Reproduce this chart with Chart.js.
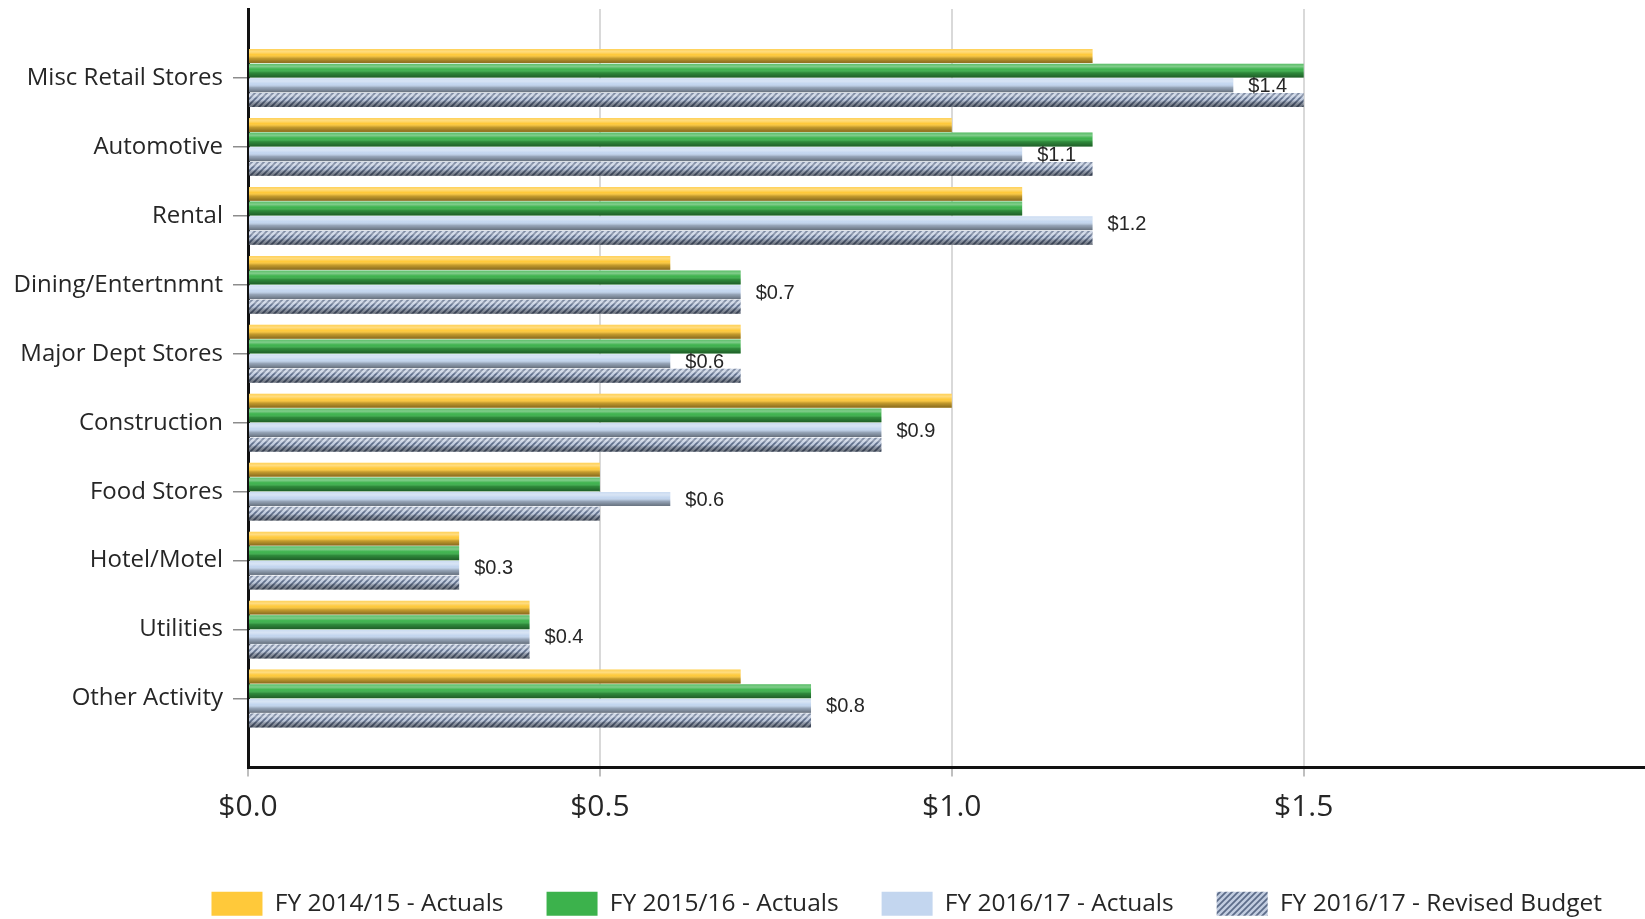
<!DOCTYPE html>
<html>
<head>
<meta charset="utf-8">
<script src="https://cdn.jsdelivr.net/npm/chart.js@4.4.1/dist/chart.umd.min.js"></script>
<style>
  html, body { margin: 0; padding: 0; background: #fff; }
  #wrap { width: 1645px; height: 919px; position: relative; }
</style>
</head>
<body>
<div id="wrap"><canvas id="chart"></canvas></div>
<script>
// values in $ millions
const categories = ['Misc Retail Stores', 'Automotive', 'Rental', 'Dining/Entertnmnt', 'Major Dept Stores',
  'Construction', 'Food Stores', 'Hotel/Motel', 'Utilities', 'Other Activity'];
const seriesNames = ['FY 2014/15 - Actuals', 'FY 2015/16 - Actuals', 'FY 2016/17 - Actuals', 'FY 2016/17 - Revised Budget'];
const fy1415Actuals = [1.2, 1.0, 1.1, 0.6, 0.7, 1.0, 0.5, 0.3, 0.4, 0.7];
const fy1516Actuals = [1.5, 1.2, 1.1, 0.7, 0.7, 0.9, 0.5, 0.3, 0.4, 0.8];
const fy1617Actuals = [1.4, 1.1, 1.2, 0.7, 0.6, 0.9, 0.6, 0.3, 0.4, 0.8];
const fy1617Budget = [1.5, 1.2, 1.2, 0.7, 0.7, 0.9, 0.5, 0.3, 0.4, 0.8];
const xTickValues = [0, 0.5, 1.0, 1.5];
const labelledSeries = 2; // only FY 2016/17 actuals carry value labels

const FONT = '"Open Sans", "Noto Sans", sans-serif';
const TEXT = '#262626';

// empty slot above and below the categories, like the original
const pad = arr => [null, ...arr, null];
const shown = v => xTickValues.includes(v);

function hatch() {
  const c = document.createElement('canvas');
  c.width = 6; c.height = 6;
  const g = c.getContext('2d');
  g.fillStyle = '#c2cde0';
  g.fillRect(0, 0, 6, 6);
  g.strokeStyle = '#5d6d8a';
  g.lineWidth = 1.8;
  g.beginPath();
  g.moveTo(-1, 7); g.lineTo(7, -1);
  g.moveTo(-4, 4); g.lineTo(4, -4);
  g.moveTo(2, 10); g.lineTo(10, 2);
  g.stroke();
  return g.createPattern(c, 'repeat');
}

// cylinder-like shading over every bar
const shading = {
  id: 'shading',
  afterDatasetsDraw(chart) {
    const ctx = chart.ctx;
    ctx.save();
    chart.data.datasets.forEach((ds, i) => {
      chart.getDatasetMeta(i).data.forEach((bar, j) => {
        if (ds.data[j] == null) return;
        const top = bar.y - bar.height / 2;
        const g = ctx.createLinearGradient(0, top, 0, top + bar.height);
        g.addColorStop(0, 'rgba(255,255,255,0.15)');
        g.addColorStop(0.2, 'rgba(255,255,255,0.35)');
        g.addColorStop(0.4, 'rgba(255,255,255,0)');
        g.addColorStop(0.65, 'rgba(0,0,0,0.22)');
        g.addColorStop(1, 'rgba(0,0,0,0.48)');
        ctx.fillStyle = g;
        ctx.fillRect(bar.base, top, bar.x - bar.base, bar.height);
      });
    });
    ctx.restore();
  }
};

const valueLabels = {
  id: 'valueLabels',
  afterDatasetsDraw(chart) {
    const ctx = chart.ctx;
    const ds = chart.data.datasets[labelledSeries];
    ctx.save();
    ctx.font = '20px "Liberation Sans", Arial, sans-serif';
    ctx.textBaseline = 'middle';
    chart.getDatasetMeta(labelledSeries).data.forEach((bar, j) => {
      const v = ds.data[j];
      if (v == null) return;
      const txt = '$' + v.toFixed(1);
      const w = ctx.measureText(txt).width;
      const top = bar.y - bar.height / 2;
      ctx.fillStyle = '#fff';
      ctx.fillRect(bar.x + 1, top, w + 26, bar.height);
      ctx.fillStyle = TEXT;
      ctx.fillText(txt, bar.x + 15, bar.y + 1);
    });
    ctx.restore();
  }
};

const colors = ['#ffc93a', '#3cb24c', '#c3d6ef', hatch()];
const series = [fy1415Actuals, fy1516Actuals, fy1617Actuals, fy1617Budget];

new Chart(document.getElementById('chart'), {
  type: 'bar',
  data: {
    labels: pad(categories),
    datasets: series.map((vals, i) => ({
      label: seriesNames[i],
      data: pad(vals),
      backgroundColor: colors[i],
      borderWidth: 0,
      barPercentage: 0.95,
      categoryPercentage: 0.85
    }))
  },
  options: {
    indexAxis: 'y',
    responsive: true,
    maintainAspectRatio: false,
    animation: false,
    layout: { padding: { top: 9, right: 0, bottom: -7, left: 0 } },
    plugins: {
      tooltip: { enabled: false },
      legend: {
        position: 'bottom',
        align: 'end',
        labels: {
          boxWidth: 51,
          boxHeight: 24,
          padding: 43,
          color: TEXT,
          font: { family: FONT, size: 24.5 }
        }
      }
    },
    scales: {
      x: {
        type: 'linear',
        min: 0,
        max: 1.985, // the axis runs on past the right edge of the picture
        afterFit: s => { s.height = 81; s.paddingRight = 0; },
        ticks: {
          stepSize: 0.5,
          padding: 13,
          color: TEXT,
          font: { family: FONT, size: 30 },
          callback: v => shown(v) ? '$' + v.toFixed(1) : ''
        },
        grid: {
          color: c => (c.tick && shown(c.tick.value)) ? '#d9d9d9' : 'rgba(0,0,0,0)',
          tickColor: c => (c.tick && shown(c.tick.value)) ? '#bfbfbf' : 'rgba(0,0,0,0)',
          lineWidth: 2,
          tickLength: 9
        },
        border: { color: '#111', width: 3 }
      },
      y: {
        type: 'category',
        offset: false,
        afterFit: s => { s.width = 248; s.paddingTop = 0; s.paddingBottom = 0; },
        ticks: {
          autoSkip: false,
          padding: 10,
          color: TEXT,
          font: { family: FONT, size: 24 }
        },
        grid: {
          offset: false,
          drawOnChartArea: false,
          tickLength: 15,
          tickColor: '#8c8c8c',
          lineWidth: 1.5
        },
        border: { color: '#111', width: 3 }
      }
    }
  },
  plugins: [shading, valueLabels]
});
</script>
</body>
</html>
